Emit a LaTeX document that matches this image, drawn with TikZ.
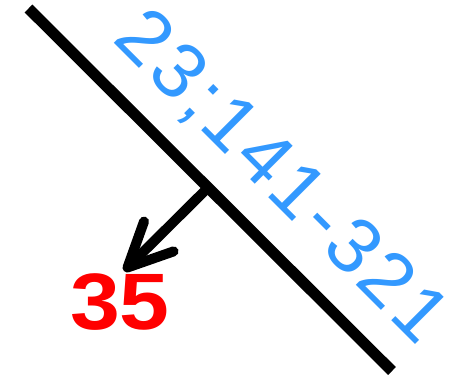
\documentclass[tikz,border=0pt]{standalone}
\usepackage{fontspec}
\setmainfont{Liberation Sans}
\usepackage{xcolor}
\usepackage{tikz}
\usetikzlibrary{arrows.meta, calc}

\definecolor{codeblue}{RGB}{51,153,255}

\begin{document}
\begin{tikzpicture}[
    x=1pt, y=1pt,
    edge/.style={line width=11pt},
    pointer/.style={line width=10pt, -{Straight Barb[length=44pt, width=42pt, round]}},
    code/.style={font=\fontsize{78}{78}\selectfont\addfontfeature{LetterSpace=5.5}, text=codeblue, inner sep=0pt},
    weight/.style={font=\fontsize{80}{80}\selectfont\bfseries, text=red, inner sep=0pt, xscale=1.12},
  ]

    \useasboundingbox (0,0) rectangle (451,-380);

    % Edge
    \coordinate (start) at (28.5,-8.5);
    \coordinate (end) at (392,-371);
    \draw[edge] (start) -- (end);

    % Label along the edge
    \node[code, rotate=-45, anchor=base] (code) at (265,-194) {23;141-321};

    % Weight
    \node[weight] (weight) at (120,-302) {35};
    \coordinate (mid) at ($(start)!0.494!(end)$);
    \coordinate (tip) at (124,-271);
    \draw[pointer] (mid) -- (tip);

  \end{tikzpicture}
\end{document}
